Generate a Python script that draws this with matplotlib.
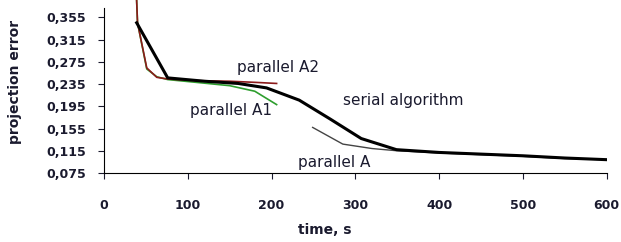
import numpy as np
import matplotlib.pyplot as plt

plt.rcParams['font.family'] = ['DejaVu Sans']

# serial algorithm
t_serial = [39, 76, 120, 160, 194, 233, 270, 307, 349, 400, 450, 500, 550, 600]
e_serial = [0.345, 0.246, 0.240, 0.236, 0.228, 0.206, 0.172, 0.137, 0.117, 0.112, 0.109, 0.106, 0.102, 0.099]

# parallel A
t_parA = [249, 285, 320, 350, 400, 450, 500, 550, 600]
e_parA = [0.157, 0.127, 0.119, 0.115, 0.111, 0.108, 0.105, 0.101, 0.099]

# parallel A1
t_parA1 = [38, 40, 51, 63, 76, 110, 150, 180, 206]
e_parA1 = [0.42, 0.345, 0.262, 0.248, 0.243, 0.238, 0.232, 0.222, 0.198]

# parallel A2
t_parA2 = [38, 40, 51, 63, 76, 110, 150, 180, 206]
e_parA2 = [0.42, 0.345, 0.264, 0.247, 0.244, 0.241, 0.240, 0.238, 0.236]

yticks = [0.075, 0.115, 0.155, 0.195, 0.235, 0.275, 0.315, 0.355]
ytick_labels = ['0,075', '0,115', '0,155', '0,195', '0,235', '0,275', '0,315', '0,355']
xticks = [0, 100, 200, 300, 400, 500, 600]

fig = plt.figure(figsize=(6.21, 2.42), dpi=100)
ax = fig.add_axes([0.1675, 0.285, 0.8095, 0.715])

ax.plot(t_parA1, e_parA1, color='#2e9e2e', lw=1.2)
ax.plot(t_parA2, e_parA2, color='#8b1a1a', lw=1.2)
ax.plot(t_parA, e_parA, color='#444444', lw=1.0)
ax.plot(t_serial, e_serial, color='black', lw=2.2)

ax.set_xlim(0, 600)
ax.set_ylim(0.075, 0.386)
ax.spines['left'].set_bounds(0.075, 0.371)
ax.spines['top'].set_visible(False)
ax.spines['right'].set_visible(False)

ax.set_yticks(yticks)
ax.set_yticklabels(ytick_labels)
ax.set_xticks(xticks)
ax.tick_params(axis='both', direction='out', length=4, labelsize=9, colors='#1a1a2e')
ax.tick_params(axis='x', pad=15)
ax.tick_params(axis='y', pad=9)
for lab in ax.get_xticklabels() + ax.get_yticklabels():
    lab.set_fontweight('bold')

ax.set_xlabel('time, s', fontsize=10, fontweight='bold', color='#1a1a2e')
ax.set_ylabel('projection error', fontsize=10, fontweight='bold', color='#1a1a2e')
ax.xaxis.set_label_coords(0.44, -0.289)
ax.yaxis.set_label_coords(-0.163, 0.526)

txt = dict(fontsize=11, color='#1a1a2e', va='baseline')
ax.text(159, 0.256, 'parallel A2', **txt)
ax.text(103, 0.179, 'parallel A1', **txt)
ax.text(285, 0.197, 'serial algorithm', **txt)
ax.text(231, 0.086, 'parallel A', **txt)

fig.savefig('out.png', dpi=100)
